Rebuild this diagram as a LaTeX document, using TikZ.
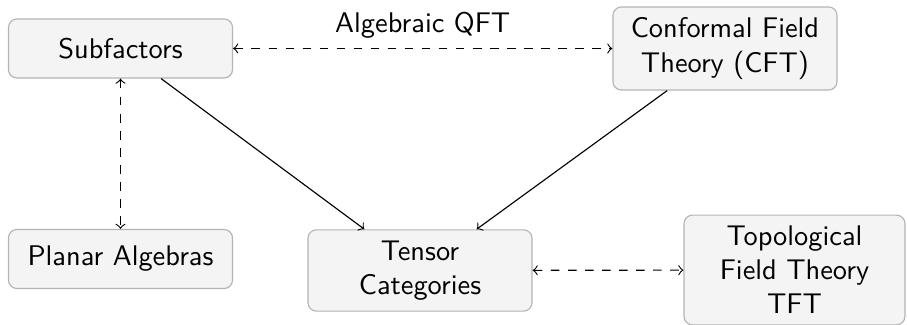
\documentclass[tikz,border=0pt]{standalone}
\usepackage{tikz}
\definecolor{boxfill}{HTML}{F4F4F4}
\definecolor{boxdraw}{HTML}{B4B4B4}
\begin{document}
\begin{tikzpicture}[x=0.3521pt,y=-0.3521pt,
  box/.style={draw=boxdraw,fill=boxfill,rounded corners=3pt,align=center,
    minimum width=78.9pt,minimum height=20.8pt,inner xsep=3pt,inner ysep=3.85pt,
    font=\sffamily},
  link/.style={<->,dashed},
  every node/.append style={font=\sffamily}]
\useasboundingbox (0,0) rectangle (907,325);
\node[box] (sub) at (120.5,48.5) {Subfactors};
\node[box] (cft) at (725,48.5) {Conformal Field\\Theory (CFT)};
\node[box] (pla) at (120.5,259) {Planar Algebras};
\node[box] (ten) at (420,270.5) {Tensor\\Categories};
\node[box,minimum width=77.8pt] (tft) at (794.5,270) {Topological\\Field Theory\\TFT};
\draw[link] (sub) -- node[above] (lab) {Algebraic QFT} (cft);
\draw[link] (sub) -- (pla);
\draw[->] (sub) -- (ten);
\draw[->] (cft) -- (ten);
\draw[link] (ten) -- (tft);
\end{tikzpicture}
\end{document}
